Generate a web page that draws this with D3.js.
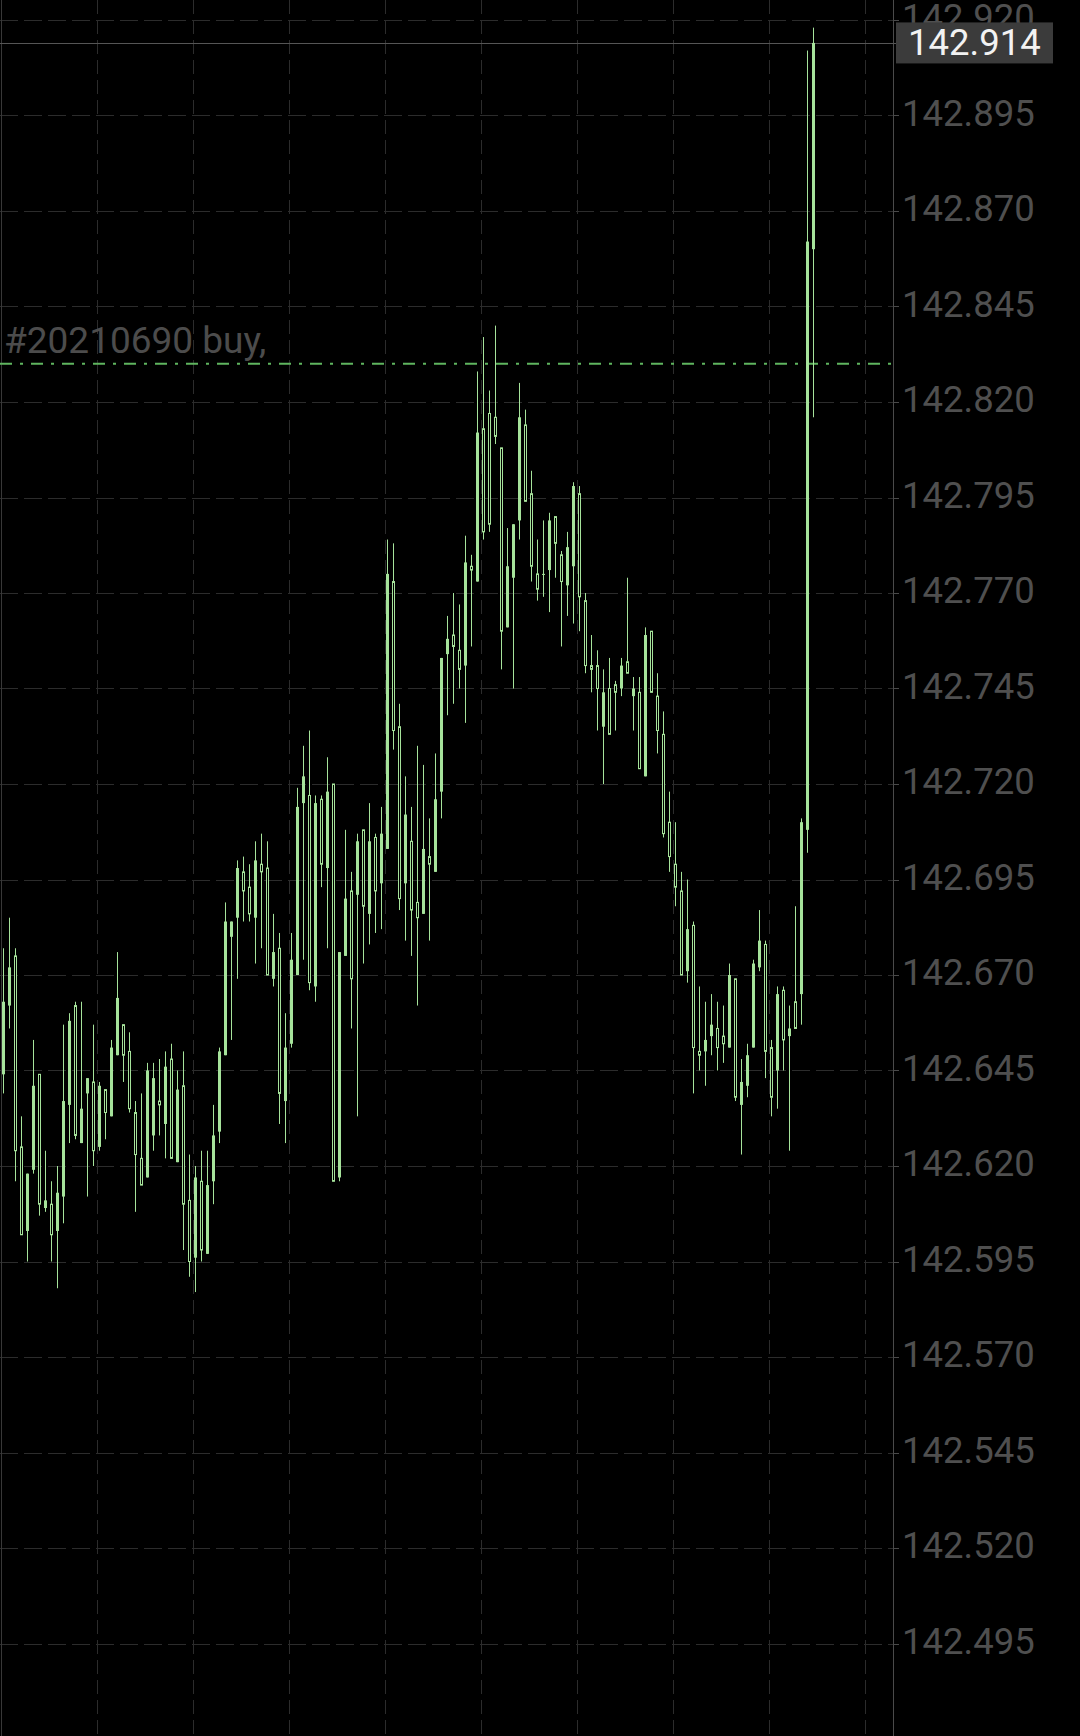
<!DOCTYPE html>
<html>
<head>
<meta charset="utf-8">
<script src="https://cdn.jsdelivr.net/npm/d3@7"></script>
<style>
  html, body { margin: 0; padding: 0; background: #000; }
  svg { display: block; }
  text { font-family: Roboto, "Noto Sans", sans-serif; }
</style>
</head>
<body>
<svg id="chart"></svg>
<script>
// bar data (oldest first)
var openP = [
  142.644, 142.662, 142.675, 142.625, 142.603, 142.619, 142.644, 142.609, 142.610, 142.603,
  142.612, 142.636, 142.662, 142.626, 142.639, 142.642, 142.625, 142.640, 142.633, 142.649,
  142.657, 142.650, 142.634, 142.622, 142.617, 142.628, 142.637, 142.631, 142.648, 142.621,
  142.641, 142.611, 142.596, 142.616, 142.597, 142.616, 142.629, 142.649, 142.680, 142.685,
  142.697, 142.693, 142.685, 142.699, 142.698, 142.669, 142.677, 142.637, 142.652, 142.670,
  142.715, 142.717, 142.667, 142.716, 142.698, 142.720, 142.617, 142.675, 142.692, 142.691,
  142.708, 142.686, 142.706, 142.694, 142.703, 142.773, 142.735, 142.694, 142.705, 142.689,
  142.686, 142.701, 142.697, 142.718, 142.754, 142.759, 142.755, 142.751, 142.777, 142.773,
  142.813, 142.817, 142.816, 142.808, 142.761, 142.774, 142.789, 142.814, 142.796, 142.775,
  142.775, 142.776, 142.790, 142.780, 142.772, 142.777, 142.796, 142.768, 142.751, 142.751,
  142.735, 142.745, 142.746, 142.745, 142.752, 142.743, 142.744, 142.722, 142.760, 142.743,
  142.733, 142.710, 142.699, 142.692, 142.671, 142.683, 142.650, 142.650, 142.654, 142.656,
  142.654, 142.651, 142.669, 142.636, 142.641, 142.651, 142.672, 142.678, 142.651, 142.645,
  142.666, 142.654, 142.663, 142.665, 142.708, 142.860
]
var highP = [
  142.677, 142.685, 142.677, 142.633, 142.618, 142.653, 142.644, 142.624, 142.616, 142.620,
  142.657, 142.660, 142.663, 142.663, 142.643, 142.657, 142.642, 142.640, 142.653, 142.676,
  142.657, 142.655, 142.637, 142.639, 142.647, 142.647, 142.648, 142.650, 142.652, 142.645,
  142.650, 142.623, 142.620, 142.624, 142.624, 142.636, 142.651, 142.689, 142.684, 142.700,
  142.701, 142.699, 142.705, 142.707, 142.705, 142.686, 142.681, 142.660, 142.681, 142.719,
  142.730, 142.734, 142.717, 142.717, 142.727, 142.720, 142.676, 142.708, 142.697, 142.707,
  142.708, 142.715, 142.707, 142.714, 142.784, 142.783, 142.741, 142.722, 142.714, 142.730,
  142.725, 142.711, 142.728, 142.753, 142.764, 142.770, 142.767, 142.785, 142.780, 142.828,
  142.837, 142.823, 142.840, 142.808, 142.787, 142.788, 142.825, 142.818, 142.802, 142.784,
  142.789, 142.791, 142.790, 142.781, 142.786, 142.799, 142.798, 142.770, 142.759, 142.755,
  142.750, 142.753, 142.747, 142.753, 142.774, 142.748, 142.748, 142.761, 142.760, 142.749,
  142.739, 142.718, 142.710, 142.697, 142.695, 142.684, 142.667, 142.663, 142.665, 142.663,
  142.662, 142.673, 142.669, 142.648, 142.652, 142.674, 142.687, 142.679, 142.653, 142.667,
  142.667, 142.662, 142.688, 142.711, 142.912, 142.918
]
var lowP = [
  142.639, 142.656, 142.616, 142.602, 142.595, 142.618, 142.607, 142.608, 142.595, 142.588,
  142.605, 142.626, 142.627, 142.626, 142.612, 142.620, 142.624, 142.627, 142.633, 142.649,
  142.642, 142.634, 142.608, 142.615, 142.617, 142.624, 142.628, 142.622, 142.622, 142.621,
  142.598, 142.591, 142.587, 142.595, 142.597, 142.610, 142.626, 142.649, 142.653, 142.669,
  142.684, 142.684, 142.673, 142.677, 142.670, 142.667, 142.631, 142.626, 142.651, 142.670,
  142.674, 142.666, 142.663, 142.693, 142.677, 142.616, 142.616, 142.675, 142.656, 142.633,
  142.673, 142.678, 142.681, 142.682, 142.703, 142.729, 142.687, 142.679, 142.675, 142.662,
  142.686, 142.679, 142.697, 142.711, 142.738, 142.741, 142.745, 142.736, 142.756, 142.773,
  142.784, 142.786, 142.809, 142.750, 142.761, 142.745, 142.784, 142.794, 142.773, 142.768,
  142.769, 142.765, 142.774, 142.756, 142.764, 142.762, 142.760, 142.749, 142.744, 142.734,
  142.720, 142.733, 142.734, 142.743, 142.749, 142.734, 142.724, 142.722, 142.744, 142.728,
  142.706, 142.697, 142.688, 142.670, 142.668, 142.639, 142.645, 142.641, 142.649, 142.645,
  142.647, 142.651, 142.637, 142.623, 142.638, 142.651, 142.671, 142.643, 142.633, 142.635,
  142.645, 142.624, 142.656, 142.657, 142.702, 142.816
]
var closeP = [
  142.663, 142.672, 142.624, 142.602, 142.618, 142.641, 142.610, 142.611, 142.602, 142.613,
  142.637, 142.658, 142.628, 142.635, 142.643, 142.624, 142.641, 142.634, 142.651, 142.664,
  142.649, 142.635, 142.623, 142.615, 142.645, 142.643, 142.636, 142.646, 142.622, 142.640,
  142.610, 142.595, 142.617, 142.598, 142.615, 142.628, 142.650, 142.684, 142.684, 142.698,
  142.692, 142.686, 142.700, 142.697, 142.670, 142.676, 142.639, 142.651, 142.674, 142.714,
  142.722, 142.668, 142.715, 142.699, 142.718, 142.616, 142.676, 142.690, 142.669, 142.705,
  142.688, 142.705, 142.692, 142.707, 142.775, 142.734, 142.690, 142.712, 142.687, 142.685,
  142.703, 142.699, 142.716, 142.753, 142.758, 142.756, 142.750, 142.778, 142.776, 142.812,
  142.786, 142.788, 142.811, 142.760, 142.777, 142.788, 142.816, 142.794, 142.777, 142.771,
  142.775, 142.789, 142.783, 142.773, 142.782, 142.798, 142.769, 142.751, 142.750, 142.745,
  142.744, 142.733, 142.744, 142.751, 142.749, 142.745, 142.724, 142.759, 142.744, 142.734,
  142.707, 142.701, 142.693, 142.670, 142.682, 142.651, 142.649, 142.653, 142.657, 142.651,
  142.652, 142.670, 142.638, 142.642, 142.649, 142.673, 142.679, 142.650, 142.638, 142.665,
  142.653, 142.656, 142.656, 142.710, 142.862, 142.914
]
var priceTicks = [142.920, 142.895, 142.870, 142.845, 142.820, 142.795, 142.770, 142.745, 142.720,
  142.695, 142.670, 142.645, 142.620, 142.595, 142.570, 142.545, 142.520, 142.495]
var timeGrid = [15.75, 31.75, 47.75, 63.75, 79.75, 95.75, 111.75, 127.75, 143.75]
var lastPrice = 142.914
var orderPrice = 142.830
var orderLabel = "#20210690 buy,"

var width = 1080, height = 1736, axisX = 893
var candleColor = "#a6e39b"

var svg = d3.select("#chart")
    .attr("width", width)
    .attr("height", height)

svg.append("rect")
    .attr("width", width)
    .attr("height", height)
    .attr("fill", "#000")

var x = d3.scaleLinear()
    .domain([0, openP.length - 1])
    .range([2.7, 812.7])

var y = d3.scaleLinear()
    .domain([142.920, 142.495])
    .range([20, 1643.5])

// grid
var grid = svg.append("g")
grid.selectAll(".hgrid")
    .data(priceTicks)
    .enter()
    .append("line")
        .attr("x1", 0)
        .attr("x2", axisX)
        .attr("y1", d => Math.round(y(d)) + 0.5)
        .attr("y2", d => Math.round(y(d)) + 0.5)
        .attr("stroke", "#2c2c2c")
        .attr("stroke-dasharray", "18,6")

grid.selectAll(".vgrid")
    .data(timeGrid)
    .enter()
    .append("line")
        .attr("x1", d => Math.round(x(d)) + 0.5)
        .attr("x2", d => Math.round(x(d)) + 0.5)
        .attr("y1", 0)
        .attr("y2", height)
        .attr("stroke", "#2c2c2c")
        .attr("stroke-dasharray", "14,6")

// left frame and price axis line
svg.append("line")
    .attr("x1", 1.5).attr("x2", 1.5)
    .attr("y1", 0).attr("y2", height)
    .attr("stroke", "#383838")
svg.append("line")
    .attr("x1", axisX + 0.5).attr("x2", axisX + 0.5)
    .attr("y1", 0).attr("y2", height)
    .attr("stroke", "#4a4a4a")

// order line
svg.append("line")
    .attr("x1", 0)
    .attr("x2", axisX)
    .attr("y1", y(orderPrice))
    .attr("y2", y(orderPrice))
    .attr("stroke", "#5fb55f")
    .attr("stroke-width", 2)
    .attr("stroke-dasharray", "12,8,3,8")

svg.append("text")
    .attr("x", 4)
    .attr("y", y(orderPrice) - 11)
    .attr("font-size", 37)
    .attr("fill", "#4c4c4c")
    .text(orderLabel)

// last price line
svg.append("line")
    .attr("x1", 0)
    .attr("x2", axisX + 6)
    .attr("y1", Math.round(y(lastPrice)) + 0.5)
    .attr("y2", Math.round(y(lastPrice)) + 0.5)
    .attr("stroke", "#555")

// candles
var bars = d3.range(openP.length)
var cg = svg.append("g")

cg.selectAll(".wick")
    .data(bars)
    .enter()
    .append("line")
        .attr("x1", i => Math.round(x(i)) + 0.5)
        .attr("x2", i => Math.round(x(i)) + 0.5)
        .attr("y1", i => y(highP[i]))
        .attr("y2", i => y(lowP[i]))
        .attr("stroke", candleColor)

cg.selectAll(".body")
    .data(bars)
    .enter()
    .append("rect")
        .attr("x", i => closeP[i] >= openP[i] ? Math.round(x(i)) - 1 : Math.round(x(i)) - 0.5)
        .attr("width", i => closeP[i] >= openP[i] ? 3 : 2)
        .attr("y", i => y(Math.max(openP[i], closeP[i])))
        .attr("height", i => Math.max(1, y(Math.min(openP[i], closeP[i])) - y(Math.max(openP[i], closeP[i]))))
        .attr("fill", i => closeP[i] >= openP[i] ? candleColor : "#000")
        .attr("stroke", i => closeP[i] >= openP[i] ? "none" : candleColor)
        .attr("stroke-width", 1)

// price axis
var axis = svg.append("g")
axis.selectAll(".tick")
    .data(priceTicks)
    .enter()
    .append("line")
        .attr("x1", axisX)
        .attr("x2", axisX + 6)
        .attr("y1", d => Math.round(y(d)) + 0.5)
        .attr("y2", d => Math.round(y(d)) + 0.5)
        .attr("stroke", "#4a4a4a")

axis.selectAll(".label")
    .data(priceTicks)
    .enter()
    .append("text")
        .attr("x", 902)
        .attr("y", d => y(d) + 10)
        .attr("font-size", 36.5)
        .attr("fill", "#4f4f4f")
        .text(d => d.toFixed(3))

// last price tag
var tagY = y(lastPrice)
svg.append("rect")
    .attr("x", 896)
    .attr("y", tagY - 20.5)
    .attr("width", 157)
    .attr("height", 41)
    .attr("fill", "#3b3b3b")
svg.append("text")
    .attr("x", 908)
    .attr("y", tagY + 12.5)
    .attr("font-size", 36.5)
    .attr("fill", "#f2f2f2")
    .text(lastPrice.toFixed(3))
</script>
</body>
</html>
